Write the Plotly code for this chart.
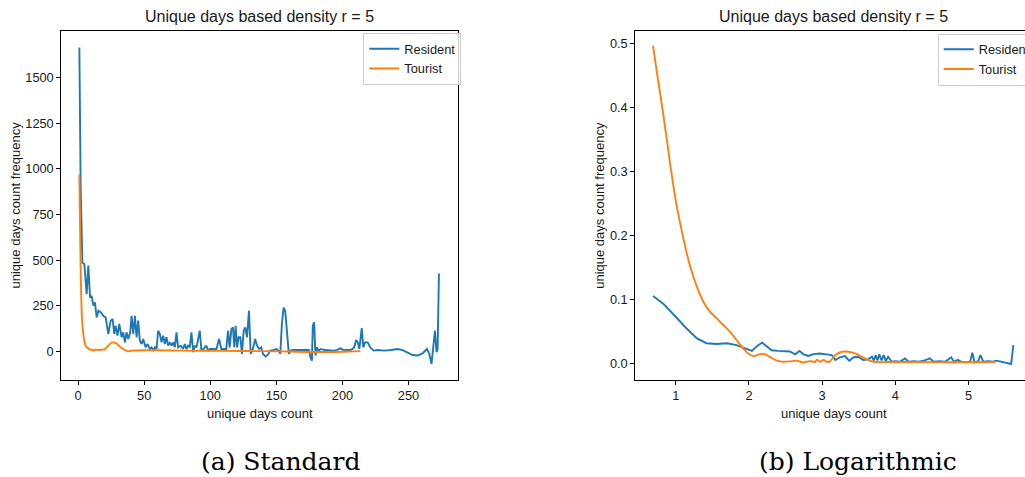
import plotly.graph_objects as go

# ---------------- data ----------------
# Standard (linear) panel
res_x = [1, 2, 3.3, 4.8, 6.5, 7.8, 9.1, 10.3, 11.6, 12.8, 14.1, 15.4, 17.4, 19.1, 20.9, 22.9, 24.7, 26.2,
         27.4, 28.4, 29.9, 31.2, 33.0, 34.2, 35.5, 36.7, 38.0, 39.5, 40.5, 41.8, 43.0, 44.3, 45.5, 46.8,
         48.1, 49.3, 51.1, 52.6, 54.3, 55.6, 57.1, 58.1, 59.4, 60.6, 61.9, 63.2, 64.4, 65.7, 66.9, 68.2,
         69.5, 70.7, 72.0, 73.2, 74.5, 75.7, 77.7, 79.5, 80.8, 82.0, 83.3, 84.5, 85.8, 87.1, 88.3, 89.6,
         92.1, 93.3, 95, 97, 98.4, 99.6, 102, 104.7, 106.7, 108.4, 111, 112, 113.5, 114.7, 116, 117.2,
         118.2, 119.2, 120.3, 121.5, 122.8, 124, 125.3, 126.5, 127.8, 129.3, 130.6, 132.3, 134, 135.4,
         137, 138.6, 139.9, 141.9, 143.7, 145.4, 147.4, 150, 151.7, 153, 154.2, 155.5, 156.7, 158, 159.5,
         160.8, 162.5, 165, 167.6, 170, 172.6, 174.6, 175.9, 176.9, 177.6, 178.6, 179.6, 180.6, 182,
         183.9, 186.4, 191.4, 194, 196.5, 198.5, 200.2, 202.8, 206.5, 209, 210.3, 211.6, 212.8, 214.6,
         215.8, 217.1, 219.1, 221.1, 223.6, 226.7, 231.7, 236.7, 241.8, 245.5, 249.3, 253.1, 256.8,
         260.6, 263.9, 265.7, 267.4, 268.7, 270, 271.2, 272, 273]
res_y = [1665, 900, 486, 477, 313, 470, 295, 304, 250, 268, 186, 222, 213, 195, 186, 95, 168, 177,
         95, 140, 86, 150, 77, 104, 49, 104, 68, 104, 195, 95, 195, 77, 168, 58,
         40, 68, 22, 40, 13, 22, 7, 22, 13, 113, 95, 49, 86, 40, 77, 31,
         49, 31, 49, 22, 104, 22, 31, 13, 40, 13, 31, 22, 104, -5, 31, 22,
         113, 7, 13, 31, 4, 13, 13, 13, 68, 13, 13, 4, 113, 22, 122, 131,
         22, 140, 22, 77, 77, -14, 113, 131, 77, 222, -14, 13, 68, 31,
         13, 22, -14, -28, -18, 4, 7, 13, 4, -14, 150, 240, 222, 113, -14,
         4, 7, 7, 7, 7, 4, 7, -33, -51, 140, 159, -23, 22, 4,
         13, 7, 7, 4, 9, 16, 9, 7, 7, 22, 62, 49, 13, 127,
         22, 49, 49, 22, 4, 7, 4, 7, 13, 7, -5, -20, -23,
         -11, 13, -14, -69, 22, 113, -5, 13, 426]

tour_x = [1, 1.5, 2, 2.5, 3, 4, 5, 6, 7, 8, 9, 10.3, 11.6, 12.8, 15.4, 17.9, 20.4, 21.6, 22.9, 24.7,
          26.7, 28.4, 30.4, 33, 35.5, 38, 40.5, 50, 60, 80, 100, 120, 140, 160, 180, 200, 213.6]
tour_y = [969, 700, 450, 280, 175, 95, 50, 28, 20, 15, 8, 11, 4, 9, 7, 9, 11, 22, 31, 44,
          49, 46, 35, 18, 7, 0, 4, 6, 6, 4, 3, 2, 1, -1, -4, -2, 1]

# Logarithmic panel
lres_x = [0.69, 0.83, 1.0, 1.15, 1.29, 1.42, 1.56, 1.7, 1.83, 1.95, 2.04, 2.1, 2.18, 2.25, 2.31, 2.4,
          2.49, 2.56, 2.63, 2.69, 2.74, 2.81, 2.88, 2.97, 3.06, 3.13, 3.18, 3.24, 3.31, 3.37, 3.43,
          3.49, 3.56, 3.63, 3.68, 3.705, 3.73, 3.755, 3.78, 3.81, 3.84, 3.87, 3.9, 3.95, 4.0, 4.06,
          4.13, 4.18, 4.25, 4.32, 4.4, 4.47, 4.52, 4.6, 4.68, 4.73, 4.76, 4.8, 4.85, 4.9, 4.97, 5.02,
          5.05, 5.08, 5.13, 5.16, 5.2, 5.27, 5.33, 5.38, 5.45, 5.52, 5.58, 5.61]
lres_y = [0.105, 0.093, 0.0725, 0.054, 0.0386, 0.031, 0.0297, 0.031, 0.028, 0.023, 0.019, 0.0256, 0.032,
          0.0256, 0.020, 0.019, 0.018, 0.018, 0.0136, 0.019, 0.014, 0.011, 0.014, 0.015, 0.0136,
          0.0125, 0.0047, 0.009, 0.011, 0.0037, 0.009, 0.0099, 0.0047, 0.0057, 0.0099, 0.004,
          0.0125, 0.004, 0.0136, 0.004, 0.0125, 0.003, 0.0099, 0.002, 0.003, 0.002, 0.0073, 0.002,
          0.003, 0.002, 0.004, 0.0073, 0.002, 0.003, 0.002, 0.006, 0.009, 0.002, 0.005, 0.002, 0.001,
          0.002, 0.016, 0.001, 0.003, 0.0125, 0.002, 0.003, 0.002, 0.0037, 0.002, 0.001, -0.0016, 0.028]

ltour_x = [0.69, 0.75, 0.83, 0.92, 1.0, 1.105, 1.196, 1.287, 1.378, 1.47, 1.56, 1.65, 1.74, 1.83, 1.92,
           2.02, 2.08, 2.15, 2.22, 2.29, 2.38, 2.47, 2.56, 2.65, 2.74, 2.83, 2.9, 2.93, 2.97, 3.02,
           3.06, 3.1, 3.18, 3.27, 3.36, 3.45, 3.54, 3.63, 3.72, 3.9, 4.3, 4.7, 5.0, 5.36]
ltour_y = [0.497, 0.45, 0.39, 0.315, 0.255, 0.195, 0.152, 0.12, 0.096, 0.080, 0.07, 0.0595, 0.049,
           0.036, 0.023, 0.0125, 0.011, 0.014, 0.014, 0.009, 0.0037, 0.002, 0.0026, 0.0037, 0.001,
           0.003, 0.0016, 0.005, 0.002, 0.0047, 0.002, 0.002, 0.0125, 0.0177, 0.0177, 0.015, 0.0099,
           0.0047, 0.0016, 0.0015, 0.0015, 0.0012, 0.0012, 0.0015]

left_xticks = [0, 50, 100, 150, 200, 250]
left_yticks = [0, 250, 500, 750, 1000, 1250, 1500]
right_xticks = [1, 2, 3, 4, 5]
right_yticks = [0.0, 0.1, 0.2, 0.3, 0.4, 0.5]

TITLE = "Unique days based density r = 5"
XLABEL = "unique days count"
YLABEL = "unique days count frequency"
CAPTIONS = ["(a) Standard", "(b) Logarithmic"]

# ---------------- style ----------------
W, H = 1025, 477
SANS = "Liberation Sans, Arial, sans-serif"
SERIF = "DejaVu Serif, Liberation Serif, serif"
BLUE = "#1f77b4"
ORANGE = "#ff7f0e"
INK = "#1a1a1a"
TICK_SIZE = 12.8
LABEL_SIZE = 13
TITLE_SIZE = 16
LEGEND_SIZE = 12.8


def px_x(p):
    return p / W


def px_y(p):
    return 1 - p / H


fig = go.Figure()
fig.add_trace(go.Scatter(x=res_x, y=res_y, mode="lines", name="Resident",
                         line=dict(color=BLUE, width=1.9), xaxis="x", yaxis="y", legend="legend"))
fig.add_trace(go.Scatter(x=tour_x, y=tour_y, mode="lines", name="Tourist",
                         line=dict(color=ORANGE, width=1.9, shape="spline", smoothing=0.6),
                         xaxis="x", yaxis="y", legend="legend"))
fig.add_trace(go.Scatter(x=lres_x, y=lres_y, mode="lines", name="Resident",
                         line=dict(color=BLUE, width=1.9), xaxis="x2", yaxis="y2", legend="legend2"))
fig.add_trace(go.Scatter(x=ltour_x, y=ltour_y, mode="lines", name="Tourist",
                         line=dict(color=ORANGE, width=1.9, shape="spline", smoothing=0.6),
                         xaxis="x2", yaxis="y2", legend="legend2"))

ydom = [px_y(380), px_y(31)]
axis_common = dict(showgrid=False, zeroline=False, showline=True, linecolor="#000000", linewidth=1,
                   ticks="outside", ticklen=4, tickwidth=1, tickcolor="#000000",
                   tickfont=dict(family=SANS, size=TICK_SIZE, color=INK))

legend_common = dict(xanchor="left", yanchor="top",
                     bgcolor="rgba(255,255,255,0.8)", bordercolor="#cccccc", borderwidth=1,
                     font=dict(family=SANS, size=LEGEND_SIZE, color=INK), itemwidth=30,
                     tracegroupgap=0)

fig.update_layout(
    width=W, height=H,
    margin=dict(l=0, r=0, t=0, b=0, autoexpand=False),
    paper_bgcolor="white", plot_bgcolor="white",
    font=dict(family=SANS, size=TICK_SIZE, color=INK),
    xaxis=dict(domain=[px_x(61.3), px_x(458.3)], range=[-12.65, 287.65], tickvals=left_xticks,
               anchor="y", mirror=True, **axis_common),
    yaxis=dict(domain=ydom, range=[-157, 1755], tickvals=left_yticks, anchor="x",
               mirror=True, **axis_common),
    xaxis2=dict(domain=[px_x(635.3), 1.0], range=[0.4485, 5.769], tickvals=right_xticks,
                anchor="y2", mirror=True, **axis_common),
    yaxis2=dict(domain=ydom, range=[-0.0266, 0.52], tickvals=right_yticks, tickformat=".1f",
                anchor="x2", mirror=False, **axis_common),
    legend=dict(x=px_x(363.3), y=px_y(33), **legend_common),
    legend2=dict(x=px_x(937.7), y=px_y(33.5), **legend_common),
)

ann = []
for cx, tcx, ycx, capx, cap in [(259.8, 259.2, 15, 280, CAPTIONS[0]),
                                (833.5, 833.0, 599.3, 858, CAPTIONS[1])]:
    ann.append(dict(text=TITLE, x=px_x(tcx), y=px_y(16.5), xref="paper", yref="paper",
                    xanchor="center", yanchor="middle", showarrow=False,
                    font=dict(family=SANS, size=TITLE_SIZE, color=INK)))
    ann.append(dict(text=XLABEL, x=px_x(cx), y=px_y(413), xref="paper", yref="paper",
                    xanchor="center", yanchor="middle", showarrow=False,
                    font=dict(family=SANS, size=LABEL_SIZE, color=INK)))
    ann.append(dict(text=YLABEL, x=px_x(ycx), y=px_y(205.5), xref="paper", yref="paper",
                    xanchor="center", yanchor="middle", showarrow=False, textangle=-90,
                    font=dict(family=SANS, size=LABEL_SIZE, color=INK)))
    ann.append(dict(text=cap, x=px_x(capx), y=px_y(461), xref="paper", yref="paper",
                    xanchor="center", yanchor="middle", showarrow=False,
                    font=dict(family=SERIF, size=25, color="#000000")))
fig.update_layout(annotations=ann)

fig.write_html("out.html", config={"displayModeBar": False},
               post_script="document.body.style.margin='0';document.body.style.overflow='hidden';")
